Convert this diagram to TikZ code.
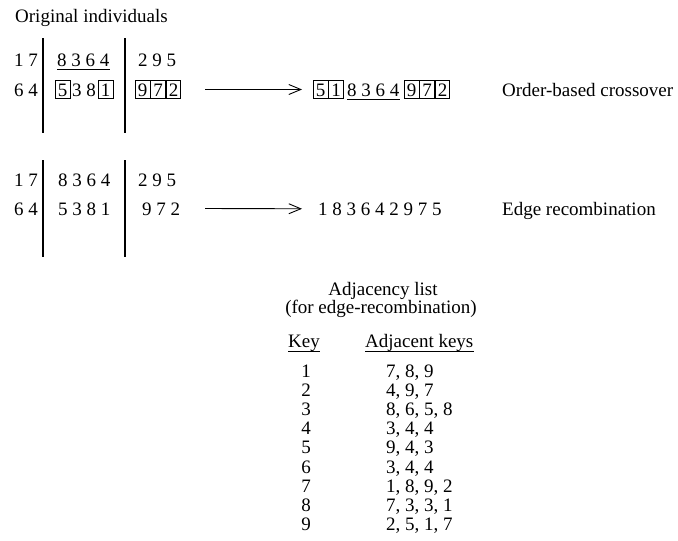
\documentclass[tikz,border=0pt]{standalone}
\usepackage{fontspec}
\setmainfont{Liberation Serif}
\usetikzlibrary{arrows.meta}

\tikzset{
  txt/.style={inner sep=0pt, anchor=base west, font=\fontsize{19}{22}\selectfont},
  ctxt/.style={inner sep=0pt, anchor=base, font=\fontsize{19}{22}\selectfont},
  digbox/.style={draw, line width=0.9pt, inner xsep=2.5pt, inner ysep=2.5pt,
                 text height=13pt, text depth=0pt, anchor=base west,
                 font=\fontsize{19}{22}\selectfont},
  sepline/.style={line width=1.1pt},
  uline/.style={line width=1pt},
  flow/.style={line width=0.9pt, -{Straight Barb[length=12pt,width=10pt,line width=0.9pt]}}
}

\begin{document}
\begin{tikzpicture}[x=1pt, y=-1pt]
\useasboundingbox (0,0) rectangle (678,541);

% ---------- heading ----------
\node[txt] (title) at (15,22) {Original individuals};

% ---------- order-based crossover: parents ----------
\draw[sepline] (43,38) -- (43,133);
\draw[sepline] (125,38) -- (125,133);

\node[txt] (pA1) at (14,66) {1 7};
\node[txt] (pA2) at (57,66) {8 3 6 4};
\draw[uline] ([yshift=-3.5pt]pA2.base west) -- ([yshift=-3.5pt]pA2.base east);
\node[txt] (pA3) at (138,66) {2 9 5};

\node[txt] (pB1) at (14,96) {6 4};
\node[digbox] (pB5) at (55,96) {5};
\node[txt] (pB38) at (72,96) {3 8};
\node[digbox] (pB1b) at (98,96) {1};
\node[digbox] (pB9) at (135,96) {9};
\node[digbox, anchor=west] (pB7) at (pB9.east) {7};
\node[digbox, anchor=west] (pB2) at (pB7.east) {2};

% ---------- order-based crossover: child ----------
\node[digbox] (c5) at (313,96) {5};
\node[digbox, anchor=west] (c1) at (c5.east) {1};
\node[txt] (cmid) at (347,96) {8 3 6 4};
\draw[uline] ([yshift=-3.5pt]cmid.base west) -- ([yshift=-3.5pt]cmid.base east);
\node[digbox] (c9) at (404,96) {9};
\node[digbox, anchor=west] (c7) at (c9.east) {7};
\node[digbox, anchor=west] (c2) at (c7.east) {2};

\node[txt] (obx) at (502,96) {Order-based crossover};

\coordinate (arrA) at (205,89.5);
\draw[flow] (arrA) -- ([xshift=-11pt]c5.west);

% ---------- edge recombination: parents ----------
\draw[sepline] (43,160) -- (43,257);
\draw[sepline] (125,160) -- (125,257);

\node[txt] (qA1) at (14,186) {1 7};
\node[txt] (qA2) at (58,186) {8 3 6 4};
\node[txt] (qA3) at (138,186) {2 9 5};

\node[txt] (qB1) at (14,215) {6 4};
\node[txt] (qB2) at (58,215) {5 3 8 1};
\node[txt] (qB3) at (142,215) {9 7 2};

% ---------- edge recombination: child ----------
\node[txt] (seq) at (318,215) {1 8 3 6 4 2 9 7 5};
\node[txt] (erx) at (502,215) {Edge recombination};

\coordinate (arrB) at (205,208.5);
\draw[flow] (arrB) -- ([xshift=-16pt]seq.west);

% ---------- adjacency list ----------
\node[ctxt] (adjT) at (383,295) {Adjacency list};
\node[ctxt] (adjS) at (381,313) {(for edge-recombination)};

\node[txt] (keyH) at (288,347) {Key};
\draw[uline] ([yshift=-4pt]keyH.base west) -- ([yshift=-4pt]keyH.base east);
\node[txt] (adjH) at (365,347) {Adjacent keys};
\draw[uline] ([yshift=-4pt]adjH.base west) -- ([yshift=-4pt]adjH.base east);

\foreach \k/\v [count=\i from 0] in {
    1/{7, 8, 9},
    2/{4, 9, 7},
    3/{8, 6, 5, 8},
    4/{3, 4, 4},
    5/{9, 4, 3},
    6/{3, 4, 4},
    7/{1, 8, 9, 2},
    8/{7, 3, 3, 1},
    9/{2, 5, 1, 7}} {
  \node[ctxt] (key\k) at (306, 377 + 19.2*\i) {\k};
  \node[txt] (val\k) at (386, 377 + 19.2*\i) {\v};
}
\end{tikzpicture}
\end{document}
